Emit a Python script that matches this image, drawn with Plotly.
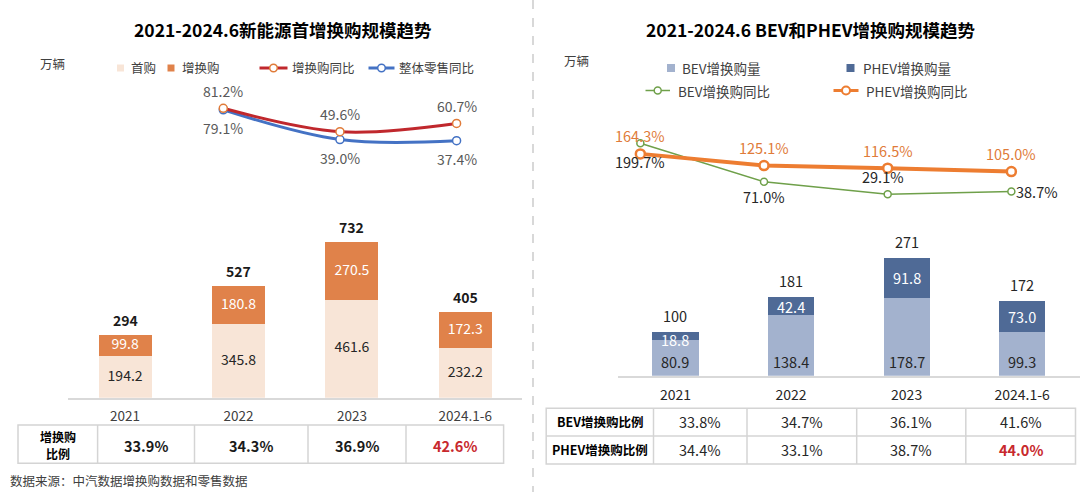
import plotly.graph_objects as go

W, H = 1080, 492
FONT = "Noto Sans CJK SC, Noto Sans, sans-serif"

# ---------------- data ----------------
categories = ["2021", "2022", "2023", "2024.1-6"]

# left panel
first_purchase = [194.2, 345.8, 461.6, 232.2]
replacement = [99.8, 180.8, 270.5, 172.3]
left_totals = ["294", "527", "732", "405"]
yoy_categories = ["2022", "2023", "2024.1-6"]
replacement_yoy = [81.2, 49.6, 60.7]
retail_yoy = [79.1, 39.0, 37.4]
replacement_share = ["33.9%", "34.3%", "36.9%", "42.6%"]

# right panel
bev_volume = [80.9, 138.4, 178.7, 99.3]
phev_volume = [18.8, 42.4, 91.8, 73.0]
right_totals = ["100", "181", "271", "172"]
bev_yoy = [199.7, 71.0, 29.1, 38.7]
phev_yoy = [164.3, 125.1, 116.5, 105.0]
bev_share = ["33.8%", "34.7%", "36.1%", "41.6%"]
phev_share = ["34.4%", "33.1%", "38.7%", "44.0%"]

# ---------------- styles ----------------
PEACH = "#F8E5D7"
ORANGE_BAR = "#E0824A"
LIGHT_BLUE = "#A3B2CE"
DARK_BLUE = "#4F6A96"
RED_LINE = "#C0282D"
RED_MARK = "#E07B39"
BLUE_LINE = "#4472C4"
GREEN = "#6FA04A"
ORANGE_LINE = "#ED7D31"
RED_TEXT = "#C8282D"
GRID = "#D4D4D4"
TXT = "#404040"
DARK = "#262626"


def px(x):
    return x / W


def py(y):
    return 1 - y / H


def cat_pos(c):
    # position of a category on a category axis (index), used for annotations
    return categories.index(c)


fig = go.Figure()

# ---------------- left bars ----------------
fig.add_trace(go.Bar(x=categories, y=first_purchase, marker=dict(color=PEACH, line=dict(width=0)),
                     width=0.467, xaxis="x", yaxis="y", hoverinfo="skip", textposition="none"))
fig.add_trace(go.Bar(x=categories, y=replacement, marker=dict(color=ORANGE_BAR, line=dict(width=0)),
                     width=0.467, xaxis="x", yaxis="y", hoverinfo="skip", textposition="none"))
fig.add_trace(go.Scatter(x=categories, y=[v / 2 for v in first_purchase], mode="text",
                         text=[f"{v:.1f}" for v in first_purchase], textposition="middle center",
                         textfont=dict(family=FONT, size=14, color=DARK), xaxis="x", yaxis="y",
                         hoverinfo="skip"))
fig.add_trace(go.Scatter(x=categories, y=[a + b / 2 for a, b in zip(first_purchase, replacement)],
                         mode="text", text=[f"{v:.1f}" for v in replacement],
                         textposition="middle center",
                         textfont=dict(family=FONT, size=14, color="white"), xaxis="x", yaxis="y",
                         hoverinfo="skip"))

# ---------------- left lines ----------------
fig.add_trace(go.Scatter(x=yoy_categories, y=retail_yoy, mode="lines+markers",
                         line=dict(color=BLUE_LINE, width=3, shape="spline"),
                         marker=dict(size=8, color="white", line=dict(color=BLUE_LINE, width=1.5)),
                         xaxis="x2", yaxis="y2", hoverinfo="skip"))
fig.add_trace(go.Scatter(x=yoy_categories, y=replacement_yoy, mode="lines+markers",
                         line=dict(color=RED_LINE, width=3, shape="spline"),
                         marker=dict(size=8, color="white", line=dict(color=RED_MARK, width=1.5)),
                         xaxis="x2", yaxis="y2", hoverinfo="skip"))

# ---------------- right bars ----------------
fig.add_trace(go.Bar(x=categories, y=bev_volume, marker=dict(color=LIGHT_BLUE, line=dict(width=0)),
                     width=0.40, xaxis="x3", yaxis="y3", hoverinfo="skip", textposition="none"))
fig.add_trace(go.Bar(x=categories, y=phev_volume, marker=dict(color=DARK_BLUE, line=dict(width=0)),
                     width=0.40, xaxis="x3", yaxis="y3", hoverinfo="skip", textposition="none"))

# ---------------- right lines ----------------
fig.add_trace(go.Scatter(x=categories, y=bev_yoy, mode="lines+markers",
                         line=dict(color=GREEN, width=1.5),
                         marker=dict(size=7, color="white", line=dict(color=GREEN, width=1.5)),
                         xaxis="x4", yaxis="y4", hoverinfo="skip"))
fig.add_trace(go.Scatter(x=categories, y=phev_yoy, mode="lines+markers",
                         line=dict(color=ORANGE_LINE, width=4),
                         marker=dict(size=9, color="white", line=dict(color=ORANGE_LINE, width=2.5)),
                         xaxis="x4", yaxis="y4", hoverinfo="skip"))

ann = []


def add_text(x, y, text, size, color=TXT, xanchor="center", bold=False, xref="paper", yref="paper",
             xshift=0, yshift=0):
    if bold:
        text = f"<b>{text}</b>"
    ann.append(dict(x=x, y=y, xref=xref, yref=yref, text=text, showarrow=False,
                    xanchor=xanchor, yanchor="middle", xshift=xshift, yshift=yshift,
                    font=dict(family=FONT, size=size, color=color)))


# BEV in-bar labels sit at the inside base of each bar
for c, a in zip(categories, bev_volume):
    add_text(cat_pos(c), 0, f"{a:.1f}", 14.5, color=DARK, xref="x3", yref="y3", yshift=14)
# PHEV in-bar labels (thin segments: label drops slightly below the segment centre)
for c, a, b in zip(categories, bev_volume, phev_volume):
    add_text(cat_pos(c), a + b / 2, f"{b:.1f}", 14.5, color="white", xref="x3", yref="y3",
             yshift=-3.5 if b < 25 else 0)

# totals above bars
for c, a, b, t in zip(categories, first_purchase, replacement, left_totals):
    add_text(cat_pos(c), a + b, t, 14, color="#1A1A1A", bold=True, xref="x", yref="y", yshift=15)
for c, a, b, t in zip(categories, bev_volume, phev_volume, right_totals):
    add_text(cat_pos(c), a + b, t, 14.5, color=DARK, xref="x3", yref="y3", yshift=16.5)

# left line labels
for c, v in zip(yoy_categories, replacement_yoy):
    add_text(cat_pos(c), v, f"{v:.1f}%", 14, color="#595959", xref="x2", yref="y2", yshift=17.5)
for c, v in zip(yoy_categories, retail_yoy):
    add_text(cat_pos(c), v, f"{v:.1f}%", 14, color="#595959", xref="x2", yref="y2", yshift=-18)

# right line labels
for c, v in zip(categories, phev_yoy):
    add_text(cat_pos(c), v, f"{v:.1f}%", 14.5, color=RED_MARK, xref="x4", yref="y4", yshift=18)
bev_label_shift = [(0, -18.5), (0, -15), (-5, 18), (26, 0)]
for c, v, (dx, dy) in zip(categories, bev_yoy, bev_label_shift):
    add_text(cat_pos(c), v, f"{v:.1f}%", 14.5, color=DARK, xref="x4", yref="y4",
             xshift=dx, yshift=dy)

# titles / units / footer
add_text(px(283), py(29), "2021-2024.6新能源首增换购规模趋势", 17.5, color="#000000", bold=True)
add_text(px(811), py(29), "2021-2024.6 BEV和PHEV增换购规模趋势", 17.5, color="#000000", bold=True)
add_text(px(38), py(63.5), "万辆", 12.5, xanchor="left")
add_text(px(562), py(60), "万辆", 12.5, xanchor="left")
add_text(px(8), py(480), "数据来源：中汽数据增换购数据和零售数据", 12.5, xanchor="left")

shapes = []


def rect(x0, y0, x1, y1, fill=None, line_color=None, lw=0):
    shapes.append(dict(type="rect", xref="paper", yref="paper", x0=px(x0), x1=px(x1),
                       y0=py(y1), y1=py(y0), fillcolor=fill or "rgba(0,0,0,0)",
                       line=dict(color=line_color or "rgba(0,0,0,0)", width=lw)))


def seg(x0, y0, x1, y1, color, lw, dash="solid"):
    shapes.append(dict(type="line", xref="paper", yref="paper", x0=px(x0), x1=px(x1),
                       y0=py(y0), y1=py(y1), line=dict(color=color, width=lw, dash=dash)))


def circ(cx, cy, r, color, lw):
    shapes.append(dict(type="circle", xref="paper", yref="paper", x0=px(cx - r), x1=px(cx + r),
                       y0=py(cy + r), y1=py(cy - r), fillcolor="white",
                       line=dict(color=color, width=lw)))


# ---------------- left legend ----------------
LY = 68
rect(117, LY - 3.5, 124, LY + 3.5, fill=PEACH)
add_text(px(128.5), py(LY), "首购", 12.5, xanchor="left")
rect(167.5, LY - 3.5, 174.5, LY + 3.5, fill=ORANGE_BAR)
add_text(px(180), py(LY), "增换购", 12.5, xanchor="left")
seg(259.5, LY, 287.5, LY, RED_LINE, 3)
circ(273.5, LY, 3.8, RED_MARK, 1.5)
add_text(px(289.5), py(LY), "增换购同比", 12.5, xanchor="left")
seg(368.5, LY, 394.5, LY, BLUE_LINE, 3)
circ(381.5, LY, 3.8, BLUE_LINE, 1.5)
add_text(px(397), py(LY), "整体零售同比", 12.5, xanchor="left")

# ---------------- right legend ----------------
R1, R2 = 68, 90.5
rect(667, R1 - 4, 675, R1 + 4, fill=LIGHT_BLUE)
add_text(px(680), py(R1), "BEV增换购量", 13.5, xanchor="left")
rect(846.5, R1 - 4, 854.5, R1 + 4, fill=DARK_BLUE)
add_text(px(861), py(R1), "PHEV增换购量", 13.5, xanchor="left")
seg(645.5, R2, 670, R2, GREEN, 1.5)
circ(657.7, R2, 3.5, GREEN, 1.5)
add_text(px(675.5), py(R2), "BEV增换购同比", 13.5, xanchor="left")
seg(833.5, R2, 858.5, R2, ORANGE_LINE, 3)
circ(846, R2, 4, ORANGE_LINE, 2)
add_text(px(863.5), py(R2), "PHEV增换购同比", 13.5, xanchor="left")

# ---------------- divider ----------------
seg(533, 0, 533, 492, "#BFBFBF", 1.2, dash="dash")

# ---------------- left table ----------------
LT_X = [18, 97.6, 194.5, 308, 406, 503.6]
LT_Y0, LT_Y1 = 425, 463.3
rect(LT_X[0], LT_Y0, LT_X[-1], LT_Y1, line_color=GRID, lw=1.5)
for xx in LT_X[1:-1]:
    seg(xx, LT_Y0, xx, LT_Y1, GRID, 1.5)
add_text(px((LT_X[0] + LT_X[1]) / 2), py(436.2), "增换购", 12, color="#000000", bold=True)
add_text(px((LT_X[0] + LT_X[1]) / 2), py(453.6), "比例", 12, color="#000000", bold=True)
for i, v in enumerate(replacement_share):
    col = RED_TEXT if i == len(replacement_share) - 1 else "#1A1A1A"
    add_text(px((LT_X[i + 1] + LT_X[i + 2]) / 2), py(445), v, 14.5, color=col, bold=True)

# ---------------- right table ----------------
RT_X = [546.2, 653.5, 747, 856.7, 965.8, 1075.5]
RT_Y = [408.3, 436, 464]
rect(RT_X[0], RT_Y[0], RT_X[-1], RT_Y[-1], line_color=GRID, lw=1.5)
seg(RT_X[0], RT_Y[1], RT_X[-1], RT_Y[1], GRID, 1.5)
for xx in RT_X[1:-1]:
    seg(xx, RT_Y[0], xx, RT_Y[-1], GRID, 1.5)
row_labels = ["BEV增换购比例", "PHEV增换购比例"]
row_y = [421.8, 449.5]
for r, (lab, vals) in enumerate(zip(row_labels, [bev_share, phev_share])):
    add_text(px((RT_X[0] + RT_X[1]) / 2), py(row_y[r]), lab, 12.5, color="#000000", bold=True)
    for i, v in enumerate(vals):
        last = (r == 1 and i == len(vals) - 1)
        add_text(px((RT_X[i + 1] + RT_X[i + 2]) / 2), py(row_y[r]), v, 14.5,
                 color=RED_TEXT if last else DARK, bold=last)

# ---------------- axes ----------------
cat_axis = dict(type="category", categoryorder="array", categoryarray=categories,
                range=[-0.5, 3.5], fixedrange=True)

fig.update_layout(
    width=W, height=H,
    margin=dict(l=0, r=0, t=0, b=0),
    paper_bgcolor="white", plot_bgcolor="rgba(0,0,0,0)",
    barmode="stack", showlegend=False, hovermode=False,
    font=dict(family=FONT, color=TXT),
    xaxis=dict(**cat_axis, domain=[px(68.4), px(522)], anchor="y", showline=True,
               linecolor="#D9D9D9", linewidth=1.5, showgrid=False, zeroline=False, ticks="",
               tickfont=dict(family=FONT, size=13.5, color=TXT), ticklabelstandoff=5),
    yaxis=dict(domain=[py(397.7), py(215)], range=[0, 182.7 / 0.2122], visible=False,
               anchor="x", fixedrange=True),
    xaxis2=dict(**cat_axis, domain=[px(48.3), px(514.9)], anchor="y2", visible=False),
    yaxis2=dict(domain=[py(168.4), py(94.4)], range=[0, 100], visible=False, anchor="x2",
                fixedrange=True),
    xaxis3=dict(**cat_axis, domain=[px(617.65), 1.0], anchor="y3", showline=True,
                linecolor="#D9D9D9", linewidth=1.5, showgrid=False, zeroline=False, ticks="",
                tickfont=dict(family=FONT, size=14, color=DARK), ticklabelstandoff=6),
    yaxis3=dict(domain=[py(375.7), py(215)], range=[0, 160.7 / 0.436], visible=False,
                anchor="x3", fixedrange=True),
    xaxis4=dict(**cat_axis, domain=[px(578.5), px(1073.2)], anchor="y4", visible=False),
    yaxis4=dict(domain=[py(203.0), py(128.26)], range=[0, 250], visible=False, anchor="x4",
                fixedrange=True),
    annotations=ann,
    shapes=shapes,
)

fig.write_html("out.html")
